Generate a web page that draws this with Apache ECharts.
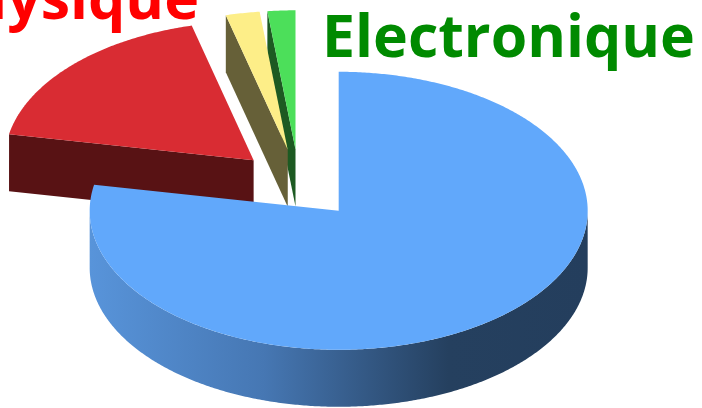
<!DOCTYPE html>
<html>
<head>
<meta charset="utf-8">
<script src="https://cdn.jsdelivr.net/npm/echarts@6/dist/echarts.min.js"></script>
<style>
  html, body { margin: 0; padding: 0; background: #ffffff; }
  #chart { width: 702px; height: 408px; }
</style>
</head>
<body>
<div id="chart"></div>
<script>
// Slice names and shares (percent), in clockwise order from 12 o'clock
const categories = ['', 'Physique', '', 'Electronique'];
const values = [78, 18, 2.2, 1.8];

// Styling per slice
const topColors = ['#61a8fb', '#d92c33', '#fdee88', '#4cdf5a'];
const sideColors = ['#3c6ba3', '#581214', '#666038', '#1d5a22'];
const labelColors = ['#000000', '#ff0000', '#000000', '#008a00'];
// Label anchor: [x, bottom y of the text box, align]
const labelAnchors = [null, [199, 32, 'right'], null, [322, 70, 'left']];

// 3D pie geometry
const CX = 299, CY = 184;     // pie centre (before explosion)
const RX = 249, RY = 139;     // top ellipse radii
const DEPTH = 57;             // thickness of the disc
const EXPLODE = 0.25;         // slice pull-out, as a fraction of the radius
const LABEL_FONT_SIZE = 59;

const total = values.reduce((a, b) => a + b, 0);

function sliceGeom(i) {
  let start = 0;
  for (let k = 0; k < i; k++) start += values[k];
  const a0 = start / total * 2 * Math.PI;
  const a1 = (start + values[i]) / total * 2 * Math.PI;
  const mid = (a0 + a1) / 2;
  const ox = CX + EXPLODE * RX * Math.sin(mid);
  const oy = CY - EXPLODE * RY * Math.cos(mid);
  return { a0, a1, ox, oy };
}

// Paint back slices first: sort by the apex depth (screen y)
const drawOrder = values.map((v, i) => i)
  .sort((p, q) => sliceGeom(p).oy - sliceGeom(q).oy);

function renderItem(params, api) {
  const i = params.dataIndex;
  const { a0, a1, ox, oy } = sliceGeom(i);
  const base = drawOrder.indexOf(i) * 10;
  const pt = (a, dz) => [ox + RX * Math.sin(a), oy - RY * Math.cos(a) + dz];
  const arc = (from, to, dz) => {
    const n = Math.max(2, Math.ceil(Math.abs(to - from) / (Math.PI / 360)));
    const pts = [];
    for (let j = 0; j <= n; j++) pts.push(pt(from + (to - from) * j / n, dz));
    return pts;
  };
  const children = [];

  // Outer curved wall: only the front half (3 o'clock through 9 o'clock) faces us
  const w0 = Math.max(a0, Math.PI / 2), w1 = Math.min(a1, 3 * Math.PI / 2);
  if (w1 > w0) {
    const pts = arc(w0, w1, 0).concat(arc(w1, w0, DEPTH));
    const fill = i === 0 ? {
      type: 'linear', x: 0, y: 0, x2: 1, y2: 0,
      colorStops: [
        { offset: 0, color: '#5894da' },
        { offset: 0.35, color: '#4677b3' },
        { offset: 0.72, color: '#25405f' },
        { offset: 1, color: '#243e5d' }
      ]
    } : sideColors[i];
    children.push({ type: 'polygon', z2: base + 1, shape: { points: pts }, style: { fill } });
  }

  // Radial cut walls, drawn when they face the viewer
  [[a0, a0 - Math.PI / 2], [a1, a1 + Math.PI / 2]].forEach(([a, normal]) => {
    if (-Math.cos(normal) > 1e-6) {
      children.push({
        type: 'polygon', z2: base + 2,
        shape: { points: [[ox, oy], pt(a, 0), pt(a, DEPTH), [ox, oy + DEPTH]] },
        style: { fill: sideColors[i] }
      });
    }
  });

  // Top face
  children.push({
    type: 'polygon', z2: base + 3,
    shape: { points: [[ox, oy]].concat(arc(a0, a1, 0)) },
    style: { fill: topColors[i] }
  });

  // Slice label
  const anchor = labelAnchors[i];
  if (anchor && categories[i]) {
    children.push({
      type: 'text', z2: 100,
      x: anchor[0], y: anchor[1],
      style: {
        text: categories[i],
        fill: labelColors[i],
        font: 'bold ' + LABEL_FONT_SIZE + 'px "Open Sans"',
        align: anchor[2],
        verticalAlign: 'bottom'
      }
    });
  }

  return { type: 'group', children };
}

const chart = echarts.init(document.getElementById('chart'), null, { renderer: 'canvas' });
chart.setOption({
  animation: false,
  series: [{
    type: 'custom',
    coordinateSystem: 'none',
    renderItem,
    data: values.map((v, i) => ({ name: categories[i], value: [v, i] }))
  }]
});
</script>
</body>
</html>
